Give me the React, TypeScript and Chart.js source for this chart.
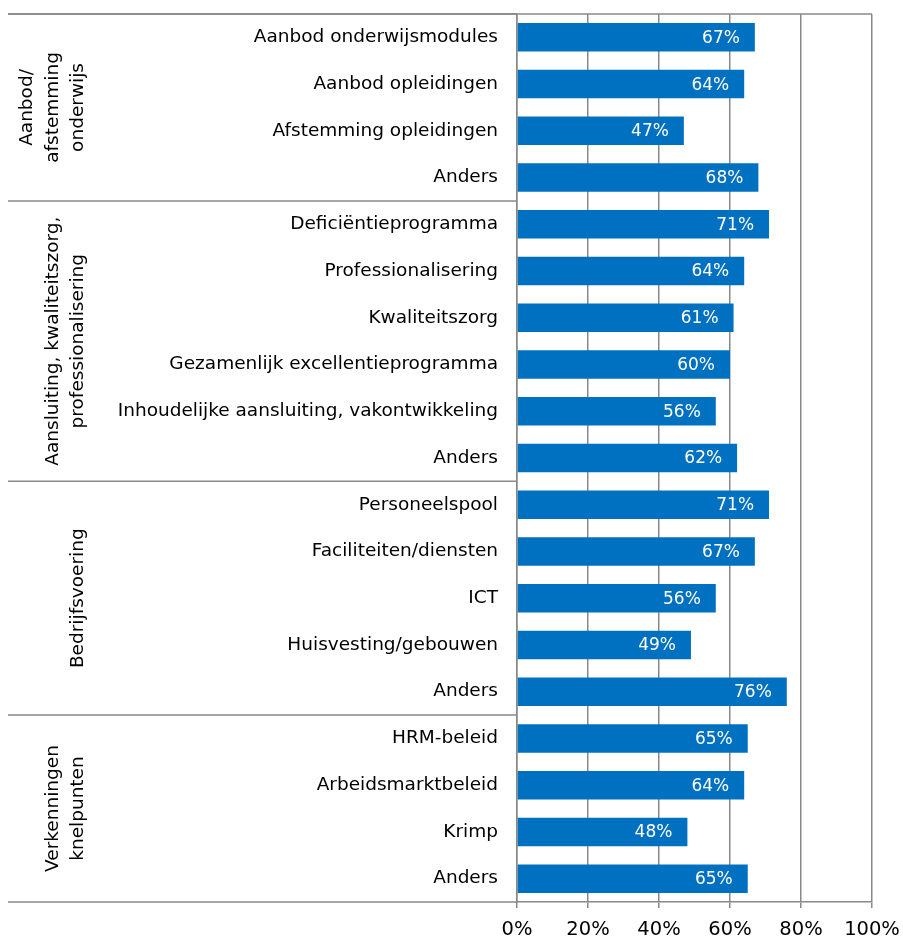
import React, { useEffect, useRef } from "react";
import { Chart, registerables } from "chart.js";

Chart.register(...registerables);

const categories = [
  "Aanbod onderwijsmodules",
  "Aanbod opleidingen",
  "Afstemming opleidingen",
  "Anders",
  "Deficiëntieprogramma",
  "Professionalisering",
  "Kwaliteitszorg",
  "Gezamenlijk excellentieprogramma",
  "Inhoudelijke aansluiting, vakontwikkeling",
  "Anders",
  "Personeelspool",
  "Faciliteiten/diensten",
  "ICT",
  "Huisvesting/gebouwen",
  "Anders",
  "HRM-beleid",
  "Arbeidsmarktbeleid",
  "Krimp",
  "Anders",
];

const values = [67, 64, 47, 68, 71, 64, 61, 60, 56, 62, 71, 67, 56, 49, 76, 65, 64, 48, 65];

const groupNames = [
  ["Aanbod/", "afstemming", "onderwijs"],
  ["Aansluiting, kwaliteitszorg,", "professionalisering"],
  ["Bedrijfsvoering"],
  ["Verkenningen", "knelpunten"],
];
const groupSizes = [4, 6, 5, 4];

const xTicks = [0, 20, 40, 60, 80, 100];

const FONT = "'DejaVu Sans', Verdana, sans-serif";
const LINE = "#888888";

const decorPlugin = {
  id: "decor",
  afterDatasetsDraw(chart: any) {
    const ctx = chart.ctx;
    const meta = chart.getDatasetMeta(0);
    ctx.save();
    ctx.fillStyle = "#ffffff";
    ctx.font = `17px ${FONT}`;
    ctx.textAlign = "right";
    ctx.textBaseline = "middle";
    meta.data.forEach((bar: any, i: number) => {
      ctx.fillText(`${values[i]}%`, bar.x - 15, bar.y + 1);
    });
    ctx.restore();
  },
  afterDraw(chart: any) {
    const ctx = chart.ctx;
    const area = chart.chartArea;
    const n = categories.length;
    const step = (area.bottom - area.top) / n;
    ctx.save();
    ctx.strokeStyle = LINE;
    ctx.lineWidth = 1.5;
    ctx.beginPath();
    ctx.moveTo(8, area.top);
    ctx.lineTo(area.right, area.top);
    ctx.stroke();
    let idx = 0;
    const bounds: number[] = [0];
    groupSizes.forEach((s) => {
      idx += s;
      bounds.push(idx);
    });
    bounds.forEach((b) => {
      const y = area.top + b * step;
      ctx.beginPath();
      ctx.moveTo(8, y);
      ctx.lineTo(area.left, y);
      ctx.stroke();
    });
    ctx.fillStyle = "#000000";
    ctx.font = `18.5px ${FONT}`;
    ctx.textAlign = "center";
    ctx.textBaseline = "alphabetic";
    groupNames.forEach((lines, g) => {
      const y0 = area.top + bounds[g] * step;
      const y1 = area.top + bounds[g + 1] * step;
      const yc = (y0 + y1) / 2;
      const lastX = 83;
      lines.forEach((line, li) => {
        const x = lastX - (lines.length - 1 - li) * 25.5;
        ctx.save();
        ctx.translate(x, yc);
        ctx.rotate(-Math.PI / 2);
        ctx.fillText(line, 0, 0);
        ctx.restore();
      });
    });
    ctx.restore();
  },
};

export default function App() {
  const ref = useRef<HTMLCanvasElement | null>(null);
  useEffect(() => {
    document.body.style.margin = "0";
    if (!ref.current) return;
    const chart = new Chart(ref.current, {
      type: "bar",
      data: {
        labels: categories,
        datasets: [
          {
            data: values,
            backgroundColor: "#0070C0",
            borderWidth: 0,
            barPercentage: 0.61,
            categoryPercentage: 1,
          },
        ],
      },
      options: {
        indexAxis: "y",
        animation: false,
        responsive: true,
        maintainAspectRatio: false,
        layout: { padding: { left: 0, top: 14, right: 31, bottom: 0 } },
        plugins: {
          legend: { display: false },
          tooltip: { enabled: false },
        },
        scales: {
          x: {
            min: 0,
            max: 100,
            afterBuildTicks: (scale: any) => {
              scale.ticks = xTicks.map((v) => ({ value: v }));
            },
            afterFit: (scale: any) => {
              scale.height = 38;
              scale.paddingLeft = 0;
              scale.paddingRight = 0;
            },
            ticks: {
              callback: (v: any) => `${v}%`,
              color: "#000000",
              font: { family: FONT, size: 19.5 },
              padding: 10,
              maxRotation: 0,
              autoSkip: false,
            },
            grid: {
              color: LINE,
              lineWidth: 1.5,
              drawTicks: true,
              tickLength: 6,
            },
            border: { display: true, color: LINE, width: 1.5 },
          },
          y: {
            afterFit: (scale: any) => {
              scale.width = 517;
              scale.paddingTop = 0;
              scale.paddingBottom = 0;
            },
            ticks: {
              color: "#000000",
              font: { family: FONT, size: 18.5 },
              padding: 19,
              autoSkip: false,
            },
            grid: { display: false, drawTicks: false },
            border: { display: true, color: LINE, width: 1.5 },
          },
        },
      },
      plugins: [decorPlugin],
    });
    return () => chart.destroy();
  }, []);
  return (
    <div style={{ width: 903, height: 940, position: "relative" }}>
      <canvas ref={ref} />
    </div>
  );
}
